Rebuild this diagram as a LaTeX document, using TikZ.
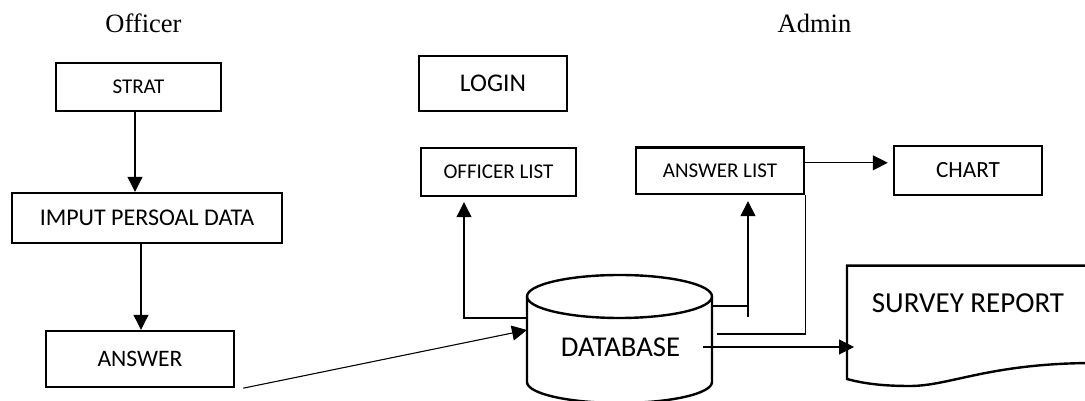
\documentclass[tikz,border=0pt]{standalone}
\usepackage{fontspec}
\setmainfont{Liberation Serif}
\newfontfamily\calibri{Carlito}
\usetikzlibrary{arrows.meta}
\newcommand\setfs[1]{\fontsize{#1}{#1}\selectfont}
\begin{document}
\begin{tikzpicture}[x=1pt,y=1pt,
  box/.style={draw, line width=2.4pt, inner sep=0pt},
  shapeline/.style={line width=2.4pt},
  conn/.style={line width=1.1pt, -{Triangle[length=15pt,width=15pt]}},
  plain/.style={line width=1.1pt}]
\useasboundingbox (0,0) rectangle (1085,401);

% column headings
\node[font=\setfs{26.5}, anchor=base] (officer) at (143.5,368.3) {Officer};
\node[font=\setfs{26.5}, anchor=base] (admin) at (814.5,368.5) {Admin};

% officer flow
\node[box, minimum width=165pt, minimum height=48pt, font=\calibri\setfs{21}] (strat) at (138.5,314) {STRAT};
\node[box, minimum width=270pt, minimum height=50pt, font=\calibri\setfs{24}] (imput) at (147,183) {IMPUT PERSOAL DATA};
\node[box, minimum width=188pt, minimum height=56pt, font=\calibri\setfs{23.6}] (answer) at (140,42) {ANSWER};

% admin side
\node[box, minimum width=148pt, minimum height=55pt, font=\calibri\setfs{25.5}] (login) at (493,317.5) {LOGIN};
\node[box, minimum width=155pt, minimum height=48pt, font=\calibri\setfs{21}] (olist) at (498.5,229) {OFFICER LIST};
\node[box, minimum width=168pt, minimum height=46.3pt, font=\calibri\setfs{21}] (alist) at (720,230.2) {ANSWER LIST};
\node[box, minimum width=148pt, minimum height=49pt, font=\calibri\setfs{23.2}] (chart) at (968,230.5) {CHART};

% database cylinder
\draw[shapeline] (619.5,104.5) ellipse[x radius=92.5, y radius=21.5];
\draw[shapeline] (527,104.5) -- (527,19) arc[start angle=180, end angle=360, x radius=92.5, y radius=21] -- (712,104.5);
\node[font=\calibri\setfs{28.7}, anchor=base] (db) at (620.5,44.3) {DATABASE};
\coordinate (dbin) at (527,71);
\coordinate (dbol) at (527,83);
\coordinate (dbal) at (712,95);
\coordinate (tj) at (748,84);
\coordinate (dbal2) at (717,67);
\coordinate (dbsr) at (703,54);

% survey report document
\begin{scope}
\clip (0,0) rectangle (1085,401);
\draw[shapeline] (1095,135.3) -- (847,135.3) -- (847,22)
  .. controls (865,17) and (885,15) .. (910,15)
  .. controls (950,15) and (990,38) .. (1095,38);
\end{scope}
\node[font=\calibri\setfs{29}, anchor=base] (survey) at (968,88) {SURVEY REPORT};
\coordinate (srin) at (854,54);

% connectors
\draw[conn] ([xshift=-3.5pt]strat.south) -- ([xshift=-3.5pt]strat.south |- imput.north);
\draw[conn] ([xshift=1pt]answer.north |- imput.south) -- ([xshift=1pt]answer.north);
\draw[conn] ([xshift=8pt]answer.south east) -- (dbin);
\draw[conn, shorten >=5pt] (dbol) -| ([xshift=-34.5pt]olist.south);
\draw[plain] (dbal) -- (dbal -| tj);
\draw[conn, shorten >=6pt] (tj) -- (tj |- alist.south);
\draw[plain] (dbal2) -| (alist.south east);
\draw[conn, shorten >=5pt] ([yshift=8pt]alist.east) -- ([yshift=8pt]alist.east -| chart.west);
\draw[conn] (dbsr) -- (srin);
\end{tikzpicture}
\end{document}
